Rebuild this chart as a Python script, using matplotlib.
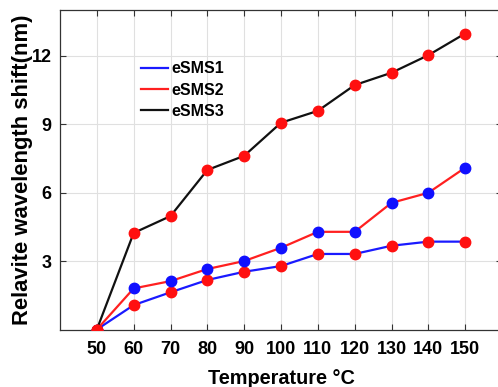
import matplotlib
matplotlib.use('Agg')
import matplotlib.pyplot as plt

plt.rcParams['font.family'] = ['Liberation Sans', 'DejaVu Sans']
plt.rcParams['font.weight'] = 'bold'

temps = [50, 60, 70, 80, 90, 100, 110, 120, 130, 140, 150]
esms1 = [0, 1.07, 1.63, 2.17, 2.53, 2.78, 3.31, 3.31, 3.67, 3.85, 3.85]
esms2 = [0, 1.80, 2.12, 2.65, 3.00, 3.58, 4.28, 4.28, 5.55, 5.99, 7.09]
esms3 = [0, 4.23, 4.97, 6.99, 7.61, 9.06, 9.58, 10.71, 11.25, 12.02, 12.97]

fig = plt.figure(figsize=(4.98, 3.87), dpi=100)
ax = fig.add_axes([60 / 498, 1 - 329.5 / 387, 442 / 498, 319.5 / 387])

# line colour and marker colour differ on purpose
ax.plot(temps, esms1, color='#1a1aff', lw=1.6, marker='o', ms=7.5,
        mfc='#ff1010', mec='#ff1010', label='eSMS1', zorder=3)
ax.plot(temps, esms2, color='#ff2020', lw=1.6, marker='o', ms=7.5,
        mfc='#1010ff', mec='#1010ff', label='eSMS2', zorder=3)
ax.plot(temps, esms3, color='#111111', lw=1.6, marker='o', ms=7.5,
        mfc='#ff1010', mec='#ff1010', label='eSMS3', zorder=3)
# first point drawn red on top
ax.plot(temps[:1], esms3[:1], 'o', ms=7.5, color='#ff1010', zorder=4)

ax.set_xlim(40, 160)
ax.set_ylim(0, 14)
ax.set_xticks(temps)
ax.set_yticks([3, 6, 9, 12])
ax.grid(True, color='#e0e0e0', lw=0.8)
ax.set_axisbelow(True)
ax.tick_params(direction='in', top=True, right=True, labelsize=13,
               length=4, color='#333333')
ax.tick_params(axis='x', pad=8)
ax.tick_params(axis='y', pad=6)
for s in ax.spines.values():
    s.set_color('#333333')
    s.set_linewidth(0.9)

ax.set_xlabel('Temperature °C', fontsize=14.3, fontweight='bold', labelpad=8)
ax.set_ylabel('Relavite wavelength shift(nm)', fontsize=15.8, fontweight='bold', labelpad=-1)

leg = ax.legend(loc='upper left', bbox_to_anchor=(0.15, 0.885), frameon=False,
                handlelength=1.7, handletextpad=0.2,
                labelspacing=0.4, prop={'weight': 'bold', 'size': 11.5})
for h in leg.legend_handles:
    h.set_marker('')

fig.savefig('out.png', dpi=100)
